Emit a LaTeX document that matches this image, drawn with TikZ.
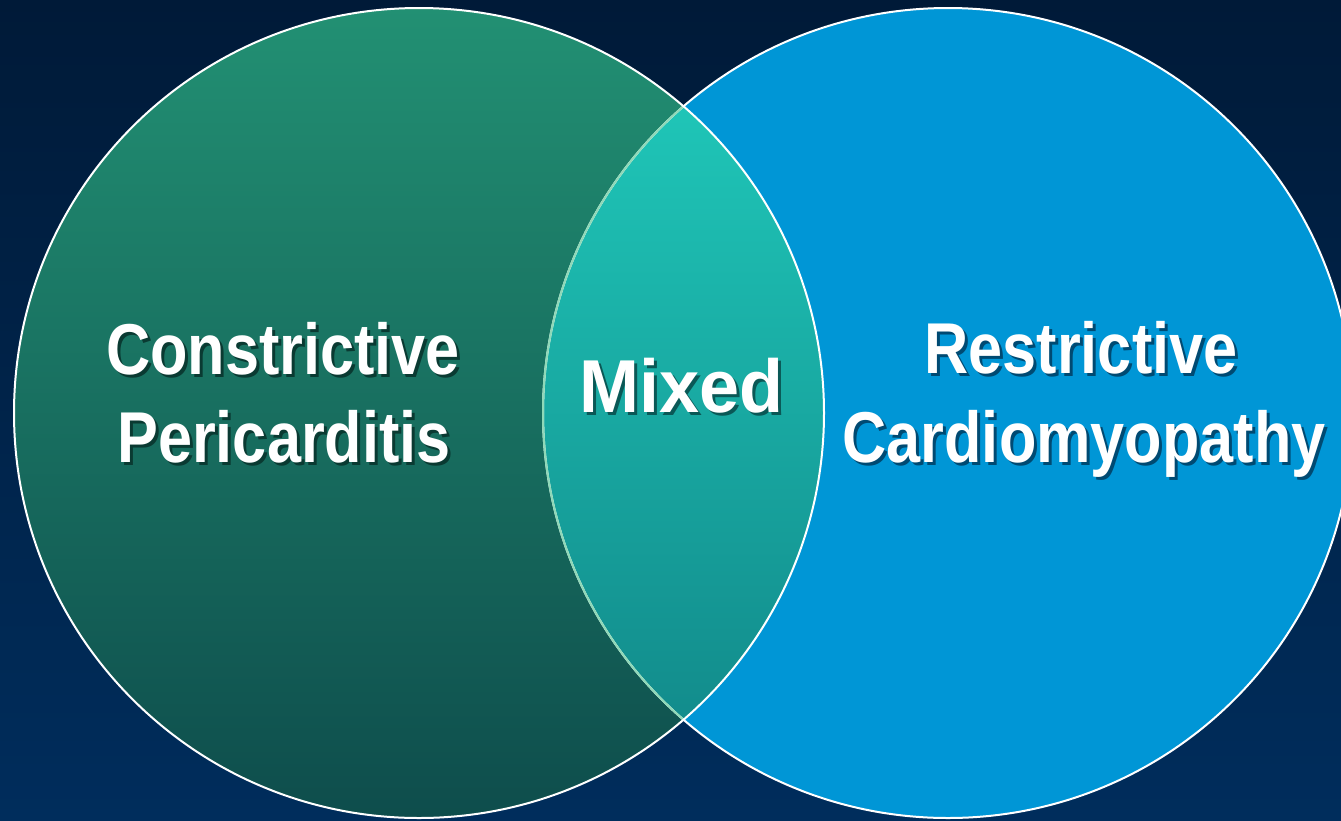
\documentclass[tikz,border=0pt]{standalone}
\usepackage{fontspec}
\newfontfamily\narrowfont{Liberation Sans}[FakeStretch=0.85]
\newfontfamily\mixfont{Liberation Sans}[FakeStretch=0.96]
\definecolor{bgtop}{HTML}{001A38}
\definecolor{bgbot}{HTML}{002D5C}
\definecolor{rblue}{HTML}{0096D6}
\definecolor{gtop}{HTML}{229073}
\definecolor{gbot}{HTML}{0E4D4C}
\definecolor{ltop}{HTML}{1FC5B7}
\definecolor{lbot}{HTML}{128C8C}
\definecolor{lensline}{HTML}{8FD9B8}
\definecolor{shgreen}{HTML}{0A3A32}
\definecolor{shteal}{HTML}{0A5856}
\definecolor{shblue}{HTML}{004A72}
% text with a drop shadow of the given colour
\newcommand{\shtext}[2]{\rlap{\kern3pt\lower3pt\hbox{\color{#1}#2}}#2}
\begin{document}
\begin{tikzpicture}[x=1pt,y=-1pt,
  lbl/.style={text=white,inner sep=0pt,anchor=base,font=\narrowfont\bfseries\fontsize{72}{80}\selectfont},
  mlbl/.style={text=white,inner sep=0pt,anchor=base,font=\mixfont\bfseries\fontsize{75}{80}\selectfont},
  outline/.style={draw=white,line width=2pt}]
\useasboundingbox (0,0) rectangle (1341,820);
\shade[top color=bgtop,bottom color=bgbot] (0,0) rectangle (1341,820);
\coordinate (L) at (419,413);
\coordinate (R) at (948,413);
% right circle
\fill[rblue] (R) circle[radius=405];
% left circle
\shade[top color=gtop,bottom color=gbot] (L) circle[radius=405];
% lens
\begin{scope}
  \clip (L) circle[radius=405];
  \clip (R) circle[radius=405];
  \shade[top color=ltop,bottom color=lbot] (540,106) rectangle (830,720);
\end{scope}
% outlines
\draw[outline] (R) circle[radius=405];
\begin{scope}
  \clip (L) circle[radius=405];
  \draw[draw=lensline,line width=2pt] (R) circle[radius=405];
\end{scope}
\draw[outline] (L) circle[radius=405];
% labels
\node[lbl] (t1) at (283,374) {\shtext{shgreen}{Constrictive}};
\node[lbl] (t2) at (284,462) {\shtext{shgreen}{Pericarditis}};
\node[mlbl] (t3) at (681.5,412) {\shtext{shteal}{Mixed}};
\node[lbl] (t4) at (1081,373) {\shtext{shblue}{Restrictive}};
\node[lbl] (t5) at (1084,462) {\shtext{shblue}{Cardiomyopathy}};
\end{tikzpicture}
\end{document}
